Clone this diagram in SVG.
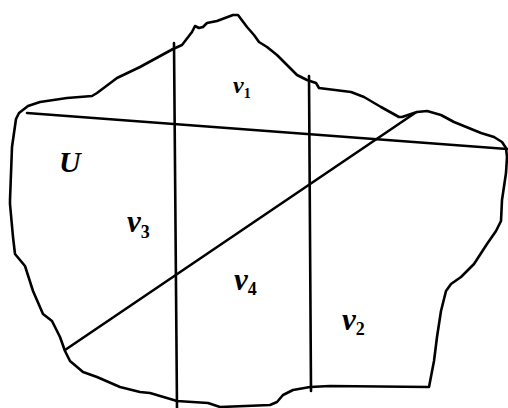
<svg xmlns="http://www.w3.org/2000/svg" width="508" height="408" viewBox="0 0 508 408">
<style>
.ln{fill:none;stroke:#000;stroke-width:2.6;stroke-linecap:round;stroke-linejoin:round}
.lb{font-family:"Liberation Serif","Times New Roman",serif;font-style:italic;font-weight:bold;fill:#000}
.sb{font-style:normal}
</style>
<rect width="508" height="408" fill="#fff"/>
<g id="region-outline">
<path class="ln" stroke-width="3" d="M28,106 L40,102 L67,98 L92,96 L97,93 L117,78 L140,67 L173,49 L182,45 L192,32 L195,26 L199,28 L203,27 L207,23 L217,21 L233,15 L238,15 L247,27 L254,35 L259,42 L267,47 L277,55 L287,65 L297,75 L307,80 L316,83 L319,88 L351,92 L364,97 L381,107 L399,117 L402,117 L417,112 L427,111 L441,115 L454,122 L481,133 L494,137 L502,142 L506,148 L507,157 L506,173 L502,200 L501,221 L496,231 L487,244 L474,264 L461,277 L451,284 L446,291 L441,311 L437,337 L434,361 L429,387 L330,386 L310,387 L293,390 L283,395 L277,402 L270,405 L220,407 L208,403 L177,401 L150,393 L140,392 L120,387 L97,377 L83,372 L70,361 L65,351 L60,337 L52,321 L43,314 L33,291 L25,266 L15,254 L13,237 L10,204 L10,200 L12,147 L16,119 L19,113 Z"/>
</g>
<g id="connectors">
<line class="ln" x1="27" y1="113" x2="507" y2="149"/>
<line class="ln" x1="174" y1="43" x2="177" y2="408"/>
<line class="ln" x1="309" y1="76" x2="311" y2="391"/>
<line class="ln" x1="65" y1="350" x2="415" y2="113"/>
</g>
<g id="U"><text class="lb" x="59" y="172" font-size="30" font-weight="normal">U</text></g>
<g id="v1"><text class="lb" x="233" y="93" font-size="24" font-weight="normal">v<tspan class="sb" font-size="14" dy="5">1</tspan></text></g>
<g id="v3"><text class="lb" x="127" y="232" font-size="31">v<tspan class="sb" font-size="18" dy="6">3</tspan></text></g>
<g id="v4"><text class="lb" x="234" y="290" font-size="31">v<tspan class="sb" font-size="18" dy="5">4</tspan></text></g>
<g id="v2"><text class="lb" x="342" y="330" font-size="31">v<tspan class="sb" font-size="18" dy="5">2</tspan></text></g>
</svg>
